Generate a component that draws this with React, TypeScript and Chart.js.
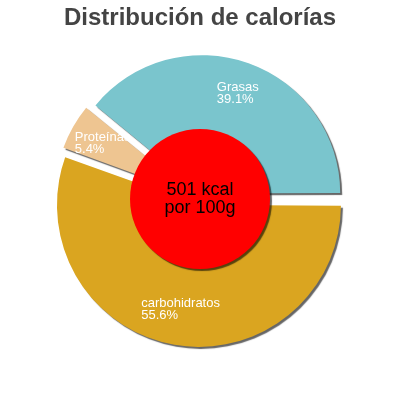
import { useEffect, useRef } from 'react';
import { Chart, registerables } from 'chart.js';

Chart.register(...registerables);

// drawn clockwise from 3 o'clock
const categories = ['carbohidratos', 'Proteínas', 'Grasas'];
const percentages = [55.6, 5.4, 39.1];
const sliceColors = ['#DAA520', '#EEC591', '#7AC5CD'];
const titleText = 'Distribución de calorías';
const centerLines = ['501 kcal', 'por 100g'];

const FONT = '"Liberation Sans", Arial, sans-serif';

const extrasPlugin = {
  id: 'extras',
  beforeDatasetsDraw(chart: any) {
    const ctx = chart.ctx;
    ctx.save();
    ctx.shadowColor = 'rgba(0,0,0,0.6)';
    ctx.shadowOffsetX = 2;
    ctx.shadowOffsetY = 2;
    ctx.shadowBlur = 1;
  },
  afterDatasetsDraw(chart: any) {
    const ctx = chart.ctx;
    ctx.restore();
    const meta = chart.getDatasetMeta(0);
    const first = meta.data[0];
    const cx = first.x;
    const cy = first.y;

    // red centre disc
    ctx.save();
    ctx.shadowColor = 'rgba(0,0,0,0.6)';
    ctx.shadowOffsetX = 2;
    ctx.shadowOffsetY = 2;
    ctx.shadowBlur = 1;
    ctx.beginPath();
    ctx.arc(cx, cy, 70, 0, Math.PI * 2);
    ctx.fillStyle = '#FF0000';
    ctx.fill();
    ctx.restore();

    ctx.save();
    ctx.fillStyle = '#000';
    ctx.font = `18px ${FONT}`;
    ctx.textAlign = 'center';
    ctx.textBaseline = 'middle';
    ctx.fillText(centerLines[0], cx, cy - 9);
    ctx.fillText(centerLines[1], cx, cy + 9);
    ctx.restore();

    // slice labels
    ctx.save();
    ctx.fillStyle = '#FFFFFF';
    ctx.font = `13px ${FONT}`;
    ctx.textBaseline = 'middle';
    ctx.textAlign = 'left';
    meta.data.forEach((arc: any, i: number) => {
      const mid = (arc.startAngle + arc.endAngle) / 2;
      const off = (arc.options.offset || 0) / 4; // arc draws offset / 4
      const r = off + arc.outerRadius * 0.78;
      const lx = arc.x + Math.cos(mid) * r;
      const ly = arc.y + Math.sin(mid) * r;
      const l1 = categories[i];
      const l2 = percentages[i].toFixed(1) + '%';
      const w = Math.max(ctx.measureText(l1).width, ctx.measureText(l2).width);
      ctx.fillText(l1, lx - w / 2, ly - 6);
      ctx.fillText(l2, lx - w / 2, ly + 6);
    });
    ctx.restore();
  },
  afterDraw(chart: any) {
    const ctx = chart.ctx;
    ctx.save();
    ctx.fillStyle = '#444444';
    ctx.font = `bold 24px ${FONT}`;
    ctx.textAlign = 'center';
    ctx.textBaseline = 'alphabetic';
    ctx.fillText(titleText, 200, 25);
    ctx.restore();
  },
};

const App = () => {
  const canvasRef = useRef<HTMLCanvasElement>(null);
  const chartRef = useRef<Chart | null>(null);

  useEffect(() => {
    document.body.style.margin = '0';
    if (!canvasRef.current) return;
    if (chartRef.current) chartRef.current.destroy();

    chartRef.current = new Chart(canvasRef.current, {
      type: 'doughnut',
      data: {
        labels: categories,
        datasets: [
          {
            data: percentages,
            backgroundColor: sliceColors,
            borderWidth: 0,
            offset: 24,
          },
        ],
      },
      options: {
        animation: false,
        responsive: false,
        rotation: 90,
        cutout: '40%',
        layout: { padding: { left: 52, right: 52, top: 51, bottom: 53 } },
        plugins: {
          legend: { display: false },
          tooltip: { enabled: false },
          title: { display: false },
        },
      },
      plugins: [extrasPlugin],
    });

    return () => {
      if (chartRef.current) {
        chartRef.current.destroy();
        chartRef.current = null;
      }
    };
  }, []);

  return (
    <div style={{ width: 400, height: 400, background: '#fff' }}>
      <canvas ref={canvasRef} width={400} height={400} />
    </div>
  );
};

export default App;
